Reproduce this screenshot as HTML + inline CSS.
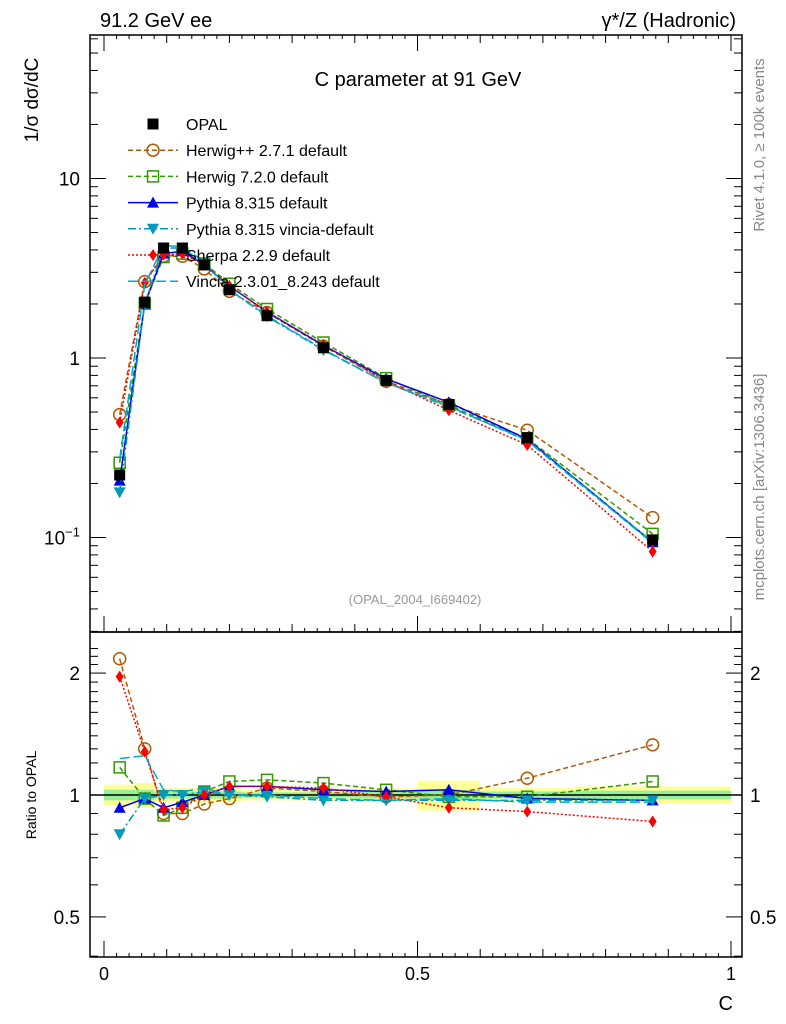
<!DOCTYPE html>
<html><head><meta charset="utf-8"><style>
body{margin:0;background:#fff;}
svg{display:block;font-family:"Liberation Sans",sans-serif;}
</style></head><body>
<svg id="c" width="786" height="1024" viewBox="0 0 786 1024" xmlns="http://www.w3.org/2000/svg">
<rect width="786" height="1024" fill="#fff"/>
<text x="100" y="27" font-size="20">91.2 GeV ee</text>
<text x="736" y="27" font-size="20" text-anchor="end">γ*/Z (Hadronic)</text>
<text x="418" y="86" font-size="20" text-anchor="middle">C parameter at 91 GeV</text>
<text x="415" y="604" font-size="13" fill="#999" text-anchor="middle">(OPAL_2004_I669402)</text>
<text transform="translate(38,100) rotate(-90)" font-size="19" text-anchor="middle">1/σ   dσ/dC</text>
<text transform="translate(36,795) rotate(-90)" font-size="14" text-anchor="middle">Ratio to OPAL</text>
<text transform="translate(764,145) rotate(-90)" font-size="15" fill="#888" text-anchor="middle">Rivet 4.1.0, ≥ 100k events</text>
<text transform="translate(764,487) rotate(-90)" font-size="15" fill="#888" text-anchor="middle">mcplots.cern.ch [arXiv:1306.3436]</text>
<text x="733" y="1010" font-size="20" text-anchor="end">C</text>
<g id="g"></g>
</svg>
<script>
const cats=[0.025,0.065,0.095,0.125,0.16,0.2,0.26,0.35,0.45,0.55,0.675,0.875];
const binLo=[0,0.05,0.08,0.11,0.14,0.18,0.22,0.30,0.40,0.50,0.60,0.75];
const binHi=[0.05,0.08,0.11,0.14,0.18,0.22,0.30,0.40,0.50,0.60,0.75,1.0];
const opal=[0.223,2.05,4.1,4.1,3.3,2.4,1.72,1.14,0.75,0.55,0.36,0.097];
const errY=[0.06,0.07,0.04,0.04,0.04,0.04,0.03,0.03,0.04,0.085,0.04,0.05];
const errG=[0.03,0.03,0.02,0.02,0.02,0.02,0.015,0.015,0.02,0.03,0.02,0.025];
const rHerwigpp=[2.17,1.30,0.90,0.90,0.95,0.98,1.04,1.02,0.99,1.0,1.10,1.33];
const rHerwig7=[1.17,0.98,0.89,0.93,1.02,1.08,1.09,1.07,1.03,0.99,0.99,1.08];
const rPythia=[0.93,0.98,0.93,0.96,1.0,1.05,1.05,1.03,1.02,1.03,0.98,0.97];
const rVinciaDef=[0.80,0.98,1.0,1.0,1.02,1.0,0.99,0.97,0.97,0.97,0.97,0.97];
const rSherpa=[1.96,1.28,0.92,0.93,1.0,1.05,1.05,1.04,0.99,0.93,0.91,0.86];
const rVincia=[1.23,1.25,1.03,1.02,1.04,1.0,1.0,0.98,0.97,0.98,0.96,0.96];
const xTicks=[0,0.5,1];
const NS="http://www.w3.org/2000/svg";
const g=document.getElementById('g');
const L=90,R=742,T=35,M=632,B=957;
const X=v=>104+v*627;
const Y=v=>358-179.5*Math.log10(v);
const RY=v=>795-405*Math.log10(v);
function mk(t,a,p){const e=document.createElementNS(NS,t);for(const k in a)e.setAttribute(k,a[k]);(p||g).appendChild(e);return e;}
const cp=mk('clipPath',{id:'rc'});mk('rect',{x:L,y:M,width:R-L,height:B-M},cp);
const bg=mk('g',{'clip-path':'url(#rc)'});
cats.forEach((c,i)=>{
 const yb=mk('rect',{x:X(binLo[i]),y:RY(1+errY[i]),width:X(binHi[i])-X(binLo[i]),height:RY(1-errY[i])-RY(1+errY[i]),fill:'#ffff99'},bg);
 
 
 const gb=mk('rect',{x:X(binLo[i]),y:RY(1+errG[i]),width:X(binHi[i])-X(binLo[i]),height:RY(1-errG[i])-RY(1+errG[i]),fill:'#99ee99'},bg);
 
 
});
mk('line',{x1:L,x2:R,y1:795,y2:795,stroke:'#000','stroke-width':1.5});
const f1=mk('rect',{x:L,y:T,width:R-L,height:M-T,fill:'none',stroke:'#000','stroke-width':1.5});

const f2=mk('rect',{x:L,y:M,width:R-L,height:B-M,fill:'none',stroke:'#000','stroke-width':1.5});

for(let k=0;k<=50;k++){const v=k/50,x=X(v);const len=k%25==0?16:(k%5==0?8:4);
 [M,B].forEach(y=>mk('line',{x1:x,x2:x,y1:y,y2:y-len,stroke:'#000'}));
 mk('line',{x1:x,x2:x,y1:T,y2:T+len,stroke:'#000'});}
xTicks.forEach(v=>{const t=mk('text',{x:X(v),y:980,'font-size':18,'text-anchor':'middle'});t.textContent=String(v);
 });
for(let d=-2;d<=1;d++)for(let m=1;m<10;m++){const v=m*Math.pow(10,d),y=Y(v);if(y<T||y>M)continue;const len=m==1?16:8;
 mk('line',{x1:L,x2:L+len,y1:y,y2:y,stroke:'#000'});mk('line',{x1:R,x2:R-len,y1:y,y2:y,stroke:'#000'});}
[[10,'10'],[1,'1']].forEach(([v,s])=>{const t=mk('text',{x:80,y:Y(v)+7,'font-size':19,'text-anchor':'end'});t.textContent=s;
 });
{const t=mk('text',{x:80,y:Y(0.1)+7,'font-size':19,'text-anchor':'end'});t.innerHTML='10<tspan dy="-8" font-size="13">−1</tspan>';
 }
for(let v=0.4;v<=2.4;v+=0.1){const y=RY(v);if(y<M||y>B)continue;const maj=[0.5,1,2].some(q=>Math.abs(q-v)<1e-6);const len=maj?16:8;
 mk('line',{x1:L,x2:L+len,y1:y,y2:y,stroke:'#000'});mk('line',{x1:R,x2:R-len,y1:y,y2:y,stroke:'#000'});}
[[2,'2'],[1,'1'],[0.5,'0.5']].forEach(([v,s])=>{
 const t=mk('text',{x:80,y:RY(v)+7,'font-size':19,'text-anchor':'end'});t.textContent=s;
 
 const t2=mk('text',{x:750,y:RY(v)+7,'font-size':19});t2.textContent=s;
 });
function marker(type,x,y,col,p){
 if(type=='sq')return mk('rect',{x:x-5.5,y:y-5.5,width:11,height:11,fill:col},p);
 if(type=='osq')return mk('rect',{x:x-5.5,y:y-5.5,width:11,height:11,fill:'none',stroke:col,'stroke-width':1.5},p);
 if(type=='oc')return mk('circle',{cx:x,cy:y,r:6,fill:'none',stroke:col,'stroke-width':1.5},p);
 if(type=='tu')return mk('path',{d:`M${x} ${y-6}L${x+6} ${y+5}L${x-6} ${y+5}Z`,fill:col},p);
 if(type=='td')return mk('path',{d:`M${x} ${y+6}L${x+6} ${y-5}L${x-6} ${y-5}Z`,fill:col},p);
 if(type=='di')return mk('path',{d:`M${x} ${y-6}L${x+4} ${y}L${x} ${y+6}L${x-4} ${y}Z`,fill:col},p);
}
const series=[
 {n:'Herwig++ 2.7.1 default',r:rHerwigpp,c:'#b35900',d:'5,3',m:'oc',k:'herwigpp'},
 {n:'Herwig 7.2.0 default',r:rHerwig7,c:'#339900',d:'5,3',m:'osq',k:'herwig7'},
 {n:'Pythia 8.315 default',r:rPythia,c:'#0000ee',d:'',m:'tu',k:'pythia'},
 {n:'Pythia 8.315 vincia-default',r:rVinciaDef,c:'#0099bb',d:'8,3,2,3',m:'td',k:'pythia-vincia'},
 {n:'Sherpa 2.2.9 default',r:rSherpa,c:'#ff0000',d:'2,2',m:'di',k:'sherpa'},
 {n:'Vincia 2.3.01_8.243 default',r:rVincia,c:'#00aacc',d:'10,4',m:'td',k:'vincia'}];
series.forEach(s=>{
 const pts=cats.map((c,i)=>[X(c),Y(opal[i]*s.r[i])]);
 const ln=mk('polyline',{points:pts.map(p=>p.join(',')).join(' '),fill:'none',stroke:s.c,'stroke-width':1.5,'stroke-dasharray':s.d});
 
 const rp=cats.map((c,i)=>[X(c),RY(s.r[i])]);
 const rl=mk('polyline',{points:rp.map(p=>p.join(',')).join(' '),fill:'none',stroke:s.c,'stroke-width':1.5,'stroke-dasharray':s.d});
 
 if(s.k=='vincia')return;
 pts.forEach(p=>{const e=marker(s.m,p[0],p[1],s.c);});
 rp.forEach(p=>{const e=marker(s.m,p[0],p[1],s.c);});
});
cats.forEach((c,i)=>{const e=marker('sq',X(c),Y(opal[i]),'#000');});
const lg=mk('g',{});
const rows=[{n:'OPAL',m:'sq',c:'#000',d:null}].concat(series);
rows.forEach((s,i)=>{const y=124+i*26.2;
 if(s.d!==null)mk('line',{x1:128,x2:178,y1:y,y2:y,stroke:s.c,'stroke-width':1.5,'stroke-dasharray':s.d},lg);
 if(s.k!='vincia')marker(s.m,153,y,s.c,lg);
 const t=mk('text',{x:186,y:y+6,'font-size':16},lg);t.textContent=s.n;
 });
</script>
</body></html>
